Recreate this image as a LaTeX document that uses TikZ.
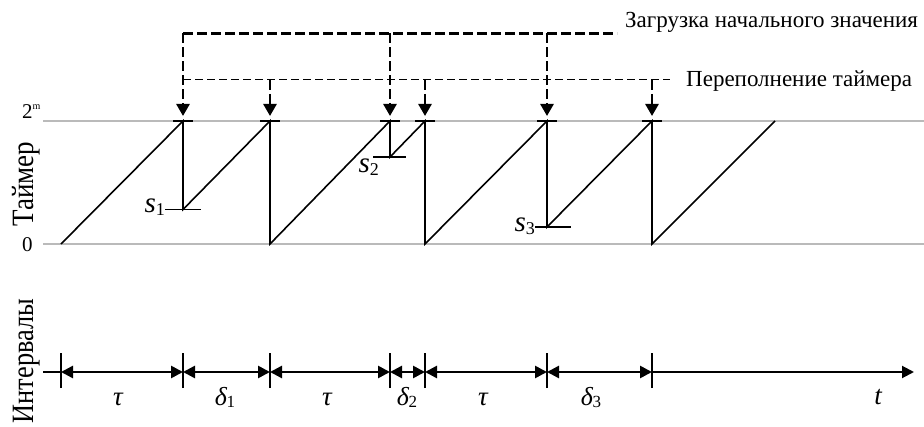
\documentclass[tikz,border=0pt]{standalone}
\usepackage{fontspec}
\setmainfont{Liberation Serif}
\usetikzlibrary{arrows.meta}
\newcommand{\slab}[1]{{\fontsize{29}{29}\selectfont\itshape s}{\fontsize{18}{18}\selectfont\raisebox{-3pt}{#1}}}
\newcommand{\dlab}[1]{{\fontsize{26}{26}\selectfont\itshape δ}\kern-0.5pt{\fontsize{17}{17}\selectfont\raisebox{-1pt}{#1}}}
\begin{document}
\begin{tikzpicture}[x=1pt,y=1pt,
  gridln/.style={draw=black!27, line width=1.6pt},
  saw/.style={line width=1.6pt},
  tbar/.style={line width=2.4pt},
  sline/.style={line width=1.1pt},
  loadln/.style={line width=2.6pt, dash pattern=on 10pt off 4pt},
  ovfln/.style={line width=1pt, dash pattern=on 8pt off 4pt},
  tipdown/.style={-{Triangle[width=13pt,length=12pt]}},
  ival/.style={line width=2.6pt,{Triangle[width=12pt,length=12pt]}-{Triangle[width=12pt,length=12pt]}},
  tickln/.style={line width=1.3pt},
  toplbl/.style={font=\fontsize{23}{23}\selectfont, inner sep=0pt, anchor=base west},
  axlbl/.style={font=\fontsize{31}{31}\selectfont, inner sep=0pt, anchor=base, rotate=90},
  numlbl/.style={font=\fontsize{21}{21}\selectfont, inner sep=0pt, anchor=base west},
  mlbl/.style={inner sep=0pt, anchor=base},
  glbl/.style={inner sep=0pt, anchor=base, font=\fontsize{27}{27}\selectfont\itshape},
]
\useasboundingbox (0,0) rectangle (924,426);
% key levels
\def\ytop{305}
\def\yzero{182}
% grid lines
\coordinate (gtl) at (43,\ytop);  \coordinate (gtr) at (924,\ytop);
\coordinate (gzl) at (43,\yzero); \coordinate (gzr) at (924,\yzero);
\draw[gridln] (gtl) -- (gtr);
\draw[gridln] (gzl) -- (gzr);
% peaks and bases
\coordinate (b0) at (61,\yzero);
\coordinate (p1) at (183,\ytop); \coordinate (s1) at (183,216.5);
\coordinate (p2) at (270,\ytop); \coordinate (b2) at (270,\yzero);
\coordinate (p3) at (390,\ytop); \coordinate (s2) at (390,269);
\coordinate (p4) at (425,\ytop); \coordinate (b4) at (425,\yzero);
\coordinate (p5) at (547,\ytop); \coordinate (s3) at (547,199);
\coordinate (p6) at (652,\ytop); \coordinate (b6) at (652,\yzero);
\coordinate (p7) at (775,\ytop);
% sawtooth
\draw[saw] (b0) -- (p1) -- (s1) -- (p2) -- (b2) -- (p3) -- (s2) -- (p4) -- (b4) -- (p5) -- (s3) -- (p6) -- (b6) -- (p7);
% T-bars at peaks
\foreach \p in {p1,p2,p3,p4,p5,p6}
  \draw[tbar] ([xshift=-10pt]\p) -- ([xshift=10pt]\p);
% s level lines
\draw[sline] (165,216.5) -- (201,216.5);
\draw[sline] (373,269) -- (406,269);
\draw[sline] (535,199) -- (571,199);
\node[mlbl, anchor=base east] (s1l) at (165,213) {\slab{1}};
\node[mlbl, anchor=base east] (s2l) at (379,253) {\slab{2}};
\node[mlbl, anchor=base east] (s3l) at (535,194) {\slab{3}};
% level labels
\node[numlbl] (two) at (22,307) {2};
\node[font=\fontsize{10}{10}\selectfont, inner sep=0pt, anchor=base west] (mexp) at (32.5,316) {m};
\node[numlbl] (zero) at (22,174.5) {0};
% axis labels
\node[axlbl] (tlab) at (33,242) {\scalebox{0.87}[1]{Таймер}};
\node[axlbl] (ilab) at (33,65) {\scalebox{0.85}[1]{Интервалы}};
% load lines
\coordinate (ld1) at (183,392.5); \coordinate (ld3) at (390,392.5); \coordinate (ld5) at (547,392.5);
\coordinate (ldend) at (617,392.5);
\draw[loadln] (ld1) -- (ldend);
\foreach \a in {1,3,5}
  \draw[loadln, tipdown] (ld\a) -- ([yshift=5pt]p\a);
\node[toplbl] (loadtxt) at (625,398) {Загрузка начального значения};
% overflow lines
\coordinate (ov0) at (183,346); \coordinate (ov2) at (270,346); \coordinate (ov4) at (425,346); \coordinate (ov6) at (652,346);
\coordinate (ovend) at (670,346);
\draw[ovfln] (ov0) -- (ovend);
\foreach \a in {2,4,6}
  \draw[loadln, tipdown] (ov\a) -- ([yshift=5pt]p\a);
\node[toplbl] (ovftxt) at (686,339) {Переполнение таймера};
% time axis
\def\yax{54}
\coordinate (a0) at (43,\yax);
\coordinate (t0) at (61,\yax); \coordinate (t1) at (183,\yax); \coordinate (t2) at (270,\yax);
\coordinate (t3) at (390,\yax); \coordinate (t4) at (425,\yax); \coordinate (t5) at (547,\yax);
\coordinate (t6) at (652,\yax); \coordinate (aend) at (914,\yax);
\draw[line width=2pt] (a0) -- (t0);
\draw[ival] (t0) -- (t1);
\draw[ival] (t1) -- (t2);
\draw[ival] (t2) -- (t3);
\draw[ival] (t3) -- (t4);
\draw[ival] (t4) -- (t5);
\draw[ival] (t5) -- (t6);
\draw[line width=2pt, -{Triangle[width=12pt,length=12pt]}] (t6) -- (aend);
\foreach \t in {t0,t1,t2,t3,t4,t5,t6}
  \draw[tickln] ([yshift=-16pt]\t) -- ([yshift=19pt]\t);
% interval labels
\node[glbl] (tau1) at (118,21) {τ};
\node[mlbl] (d1) at (225,20) {\dlab{1}};
\node[glbl] (tau2) at (327,21) {τ};
\node[mlbl] (d2) at (407,20) {\dlab{2}};
\node[glbl] (tau3) at (483,21) {τ};
\node[mlbl] (d3) at (591,20) {\dlab{3}};
\node[glbl] (tl) at (878,22) {t};
\end{tikzpicture}
\end{document}
